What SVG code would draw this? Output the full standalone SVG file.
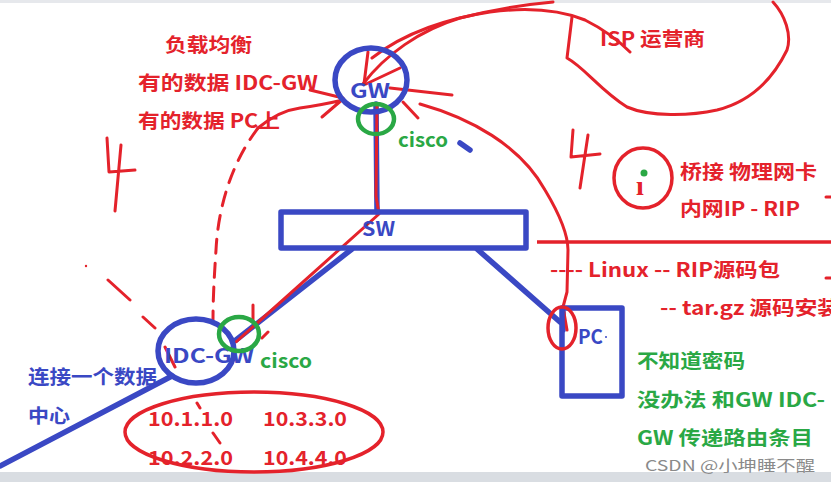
<svg xmlns="http://www.w3.org/2000/svg" width="831" height="482" viewBox="0 0 831 482">
<style>
.bl{fill:none;stroke:#3a48c4;stroke-width:5.5;stroke-linecap:round;stroke-linejoin:round}
.rd{fill:none;stroke:#e4222b;stroke-width:3;stroke-linecap:round;stroke-linejoin:round}
.rdd{fill:none;stroke:#e4222b;stroke-width:3;stroke-linecap:round;stroke-dasharray:14 10}
.gc{fill:none;stroke:#2aa845;stroke-width:4.5}
.rc{fill:none;stroke:#e4222b;stroke-width:3.5}
.t{font-family:"Noto Sans CJK SC","Liberation Sans",sans-serif;font-weight:bold;font-size:19.5px}
.tr{fill:#e4222b}.tb{fill:#3a48c4}.tg{fill:#2aa845}
</style>
<rect x="0" y="0" width="831" height="3" fill="#e6e8ec"/>
<rect x="0" y="472" width="831" height="10" fill="#d9dde2"/>
<g id="connectors">
  <path class="bl" d="M376,104 L377,212"/>
  <path class="bl" d="M352,249 L236,340"/>
  <path class="bl" d="M477,249 L560,322"/>
  <path class="bl" d="M563,312 L563,330"/>
  <path class="bl" d="M172,376 L0,466"/>
  <path class="bl" d="M460,143 L470,150"/>
  <path class="rd" d="M377,104 L376,196 L379,214 L236,342"/>
  <path class="rd" d="M420,104 C 470,118 520,145 545,190 C 560,215 568,235 568,250 L567,292 L563,307 L567,330"/>
  <path class="rd" d="M363,84 C 385,55 420,30 460,18 C 500,8 530,4 553,2"/>
  <path class="rd" d="M372,58 C 405,32 450,18 490,12 C 520,8 555,8 585,20 C 605,30 620,42 630,52"/>
  <path class="rd" d="M368,52 L364,84 M400,68 L366,84"/>
  <path class="rd" d="M310,90 L343,98 M322,117 L343,99 M258,128 C 270,118 285,110 300,108 C 315,106 330,103 343,100"/>
  <path class="rd" d="M452,95 L390,88 M418,118 L403,102"/>
  <path class="rdd" d="M258,128 C 230,165 218,210 216,250 C 214,280 213,300 213,320"/>
  <path class="rd" d="M108,280 L130,300 M143,317 L155,328 M165,347 L175,367 M253,305 L253,320 M262,338 L268,332 M197,403 L200,408 M213,433 L220,443"/>
  <circle cx="86" cy="266" r="1.2" fill="#e4222b"/>
  <path fill="none" stroke="#e4222b" stroke-width="3.5" d="M537,242 L831,242"/>
  <path class="rd" d="M826,197 L831,197 M826,278 L831,278"/>
</g>
<g id="isp">
  <path class="rd" d="M572,17 L567,58 C 585,68 600,90 627,107 C 650,117 690,116 717,110 C 745,103 770,85 787,50 C 792,35 785,15 773,2"/>
  <text class="t tr" x="600" y="46" textLength="105" lengthAdjust="spacingAndGlyphs">ISP 运营商</text>
</g>
<g id="gw">
  <ellipse cx="371" cy="80" rx="36" ry="32" class="bl" stroke-width="4.5"/>
  <text class="t tb" x="350" y="98" font-size="20" textLength="40" lengthAdjust="spacingAndGlyphs">GW</text>
  <ellipse cx="376" cy="119" rx="18" ry="15" class="gc"/>
  <text class="t tg" x="398" y="147" textLength="50" lengthAdjust="spacingAndGlyphs">cisco</text>
</g>
<g id="sw">
  <rect x="281" y="212" width="245" height="36" class="bl"/>
  <text class="t tb" x="362" y="236" textLength="33" lengthAdjust="spacingAndGlyphs">SW</text>
</g>
<g id="pc">
  <rect x="562" y="308" width="60" height="88" class="bl"/>
  <text class="t tb" x="578" y="344" textLength="25" lengthAdjust="spacingAndGlyphs">PC</text>
  <circle cx="606" cy="337" r="1" fill="#3a48c4"/>
  <ellipse cx="562" cy="328" rx="14" ry="21" class="rc"/>
</g>
<g id="idc-gw">
  <ellipse cx="196" cy="351" rx="38" ry="32" class="bl" stroke-width="4.5"/>
  <text class="t tb" x="164" y="363" textLength="90" lengthAdjust="spacingAndGlyphs">IDC-GW</text>
  <ellipse cx="239" cy="334" rx="20" ry="17" class="gc"/>
  <text class="t tg" x="260" y="368" textLength="52" lengthAdjust="spacingAndGlyphs">cisco</text>
</g>
<g id="routes">
  <ellipse cx="254" cy="432" rx="129" ry="40" class="rc"/>
  <text class="t tr" x="148" y="426" textLength="85" lengthAdjust="spacingAndGlyphs">10.1.1.0</text>
  <text class="t tr" x="263" y="426" textLength="84" lengthAdjust="spacingAndGlyphs">10.3.3.0</text>
  <text class="t tr" x="148" y="465" textLength="85" lengthAdjust="spacingAndGlyphs">10.2.2.0</text>
  <text class="t tr" x="263" y="465" textLength="84" lengthAdjust="spacingAndGlyphs">10.4.4.0</text>
</g>
<g id="notes-left">
  <text class="t tr" x="165" y="52" textLength="87" lengthAdjust="spacingAndGlyphs">负载均衡</text>
  <text class="t tr" x="138" y="90" textLength="180" lengthAdjust="spacingAndGlyphs">有的数据 IDC-GW</text>
  <text class="t tr" x="138" y="128" textLength="142" lengthAdjust="spacingAndGlyphs">有的数据 PC上</text>
  <path class="rd" d="M107,138 L109,172 L135,170 M121,145 L115,211"/>
  <text class="t tb" x="28" y="384" textLength="129" lengthAdjust="spacingAndGlyphs">连接一个数据</text>
  <text class="t tb" x="28" y="423" textLength="42" lengthAdjust="spacingAndGlyphs">中心</text>
</g>
<g id="notes-right">
  <path class="rd" d="M573,130 L571,157 L600,154 M588,135 L580,188"/>
  <ellipse cx="643" cy="178" rx="29" ry="30" class="rc"/>
  <text x="636" y="195" font-family="Liberation Serif,serif" font-weight="bold" font-size="28" fill="#e4222b">ı</text>
  <circle cx="644" cy="173" r="3.5" fill="#2aa845"/>
  <text class="t tr" x="680" y="179" textLength="137" lengthAdjust="spacingAndGlyphs">桥接 物理网卡</text>
  <text class="t tr" x="680" y="216" textLength="120" lengthAdjust="spacingAndGlyphs">内网IP - RIP</text>
  <text class="t tr" x="550" y="277" textLength="230" lengthAdjust="spacingAndGlyphs">---- Linux -- RIP源码包</text>
  <text class="t tr" x="660" y="315" textLength="180" lengthAdjust="spacingAndGlyphs">-- tar.gz 源码安装</text>
  <text class="t tg" x="637" y="368" textLength="108" lengthAdjust="spacingAndGlyphs">不知道密码</text>
  <text class="t tg" x="637" y="407" textLength="188" lengthAdjust="spacingAndGlyphs">没办法 和GW IDC-</text>
  <text class="t tg" x="637" y="445" font-size="19px" textLength="176" lengthAdjust="spacingAndGlyphs">GW 传递路由条目</text>
  <text x="645" y="471" font-family="Noto Sans CJK SC,Liberation Sans,sans-serif" font-size="14.5" fill="#8a8a8a" textLength="170" lengthAdjust="spacingAndGlyphs">CSDN @小坤睡不醒</text>
</g>
</svg>
